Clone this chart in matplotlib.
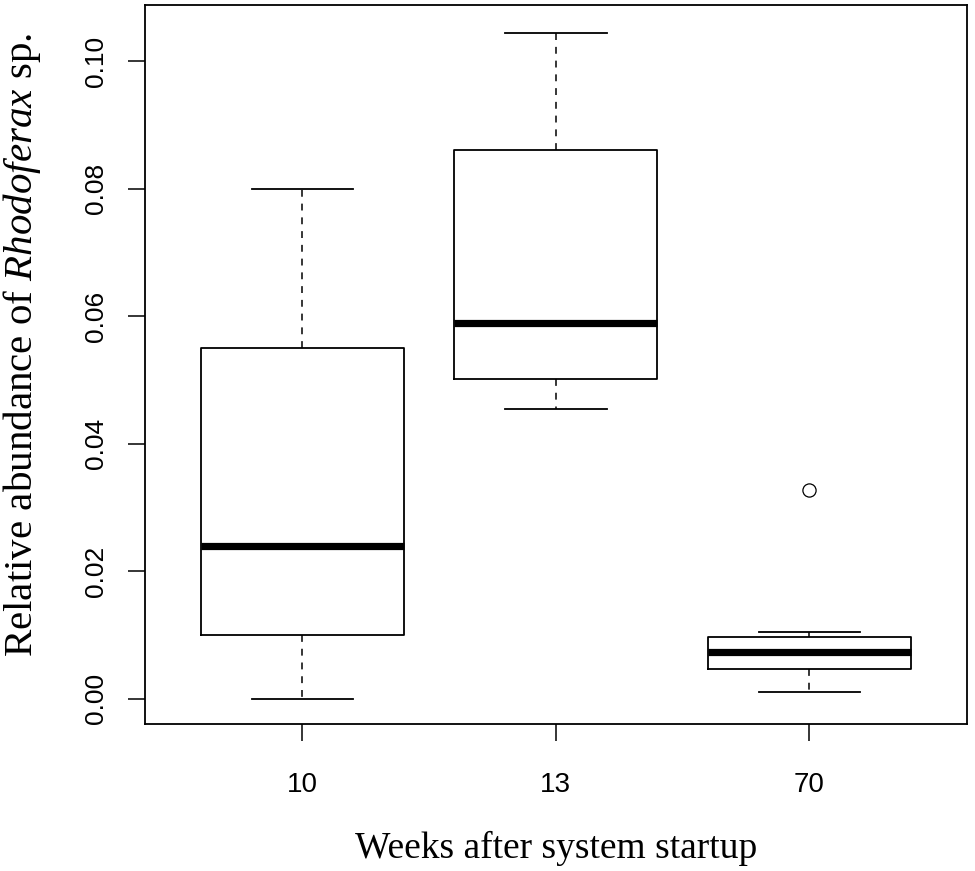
import matplotlib
matplotlib.use("Agg")
import matplotlib.pyplot as plt

plt.rcParams["mathtext.fontset"] = "custom"
plt.rcParams["mathtext.rm"] = "Liberation Serif"
plt.rcParams["mathtext.it"] = "Liberation Serif:italic"
plt.rcParams["mathtext.bf"] = "Liberation Serif:bold"

# ---- data ----
categories = ["10", "13", "70"]
whisker_low = [0.0000, 0.0455, 0.0011]
q1 = [0.0100, 0.0502, 0.0046]
median = [0.0240, 0.0590, 0.0074]
q3 = [0.0550, 0.0861, 0.0097]
whisker_high = [0.0800, 0.1045, 0.0104]
outliers = [[], [], [0.0328]]
y_ticks = [0.00, 0.02, 0.04, 0.06, 0.08, 0.10]
y_tick_labels = ["0.00", "0.02", "0.04", "0.06", "0.08", "0.10"]

W, H = 975, 871
fig = plt.figure(figsize=(W / 100, H / 100), dpi=100)
ax = fig.add_axes([145 / W, 1 - 724 / H, (966.7 - 145) / W, (724 - 5) / H])

stats = []
for i, c in enumerate(categories):
    stats.append(dict(label=c, med=median[i], q1=q1[i], q3=q3[i],
                      whislo=whisker_low[i], whishi=whisker_high[i],
                      fliers=outliers[i]))

positions = list(range(1, len(categories) + 1))
ax.bxp(stats, positions=positions, widths=0.8, showfliers=True,
       boxprops=dict(color="black", linewidth=1.3),
       medianprops=dict(color="black", linewidth=5.2, solid_capstyle="butt"),
       whiskerprops=dict(color="black", linewidth=1.1, linestyle=(0, (4.5, 4.5))),
       capprops=dict(color="black", linewidth=1.3),
       capwidths=0.4,
       flierprops=dict(marker="o", markersize=9.5, markerfacecolor="white",
                       markeredgecolor="black", markeredgewidth=0.9, linestyle="none"))

ax.set_xlim(0.379, 3.621)
ax.set_ylim(-0.00397, 0.10883)

for s in ax.spines.values():
    s.set_linewidth(1.3)
    s.set_color("black")

ax.set_yticks(y_ticks)
ax.set_yticklabels(y_tick_labels, rotation=90, va="center",
                   family=["Liberation Sans", "DejaVu Sans"], fontsize=19)
ax.set_xticks(positions)
ax.set_xticklabels(categories, family=["Liberation Sans", "DejaVu Sans"], fontsize=20)
ax.tick_params(axis="y", length=12.5, width=1.1, pad=14, direction="out")
ax.tick_params(axis="x", length=12.5, width=1.1, pad=22, direction="out")

fig.text(556 / W, 1 - 848 / H, "Weeks after system startup",
         family=["Liberation Serif", "DejaVu Serif"], fontsize=27,
         ha="center", va="center")
fig.text(22 / W, 1 - 345 / H, r"Relative abundance of $\mathit{Rhodoferax}$ sp.",
         family=["Liberation Serif", "DejaVu Serif"], fontsize=29.5,
         ha="center", va="center", rotation=90)

fig.savefig("out.png", dpi=100)
